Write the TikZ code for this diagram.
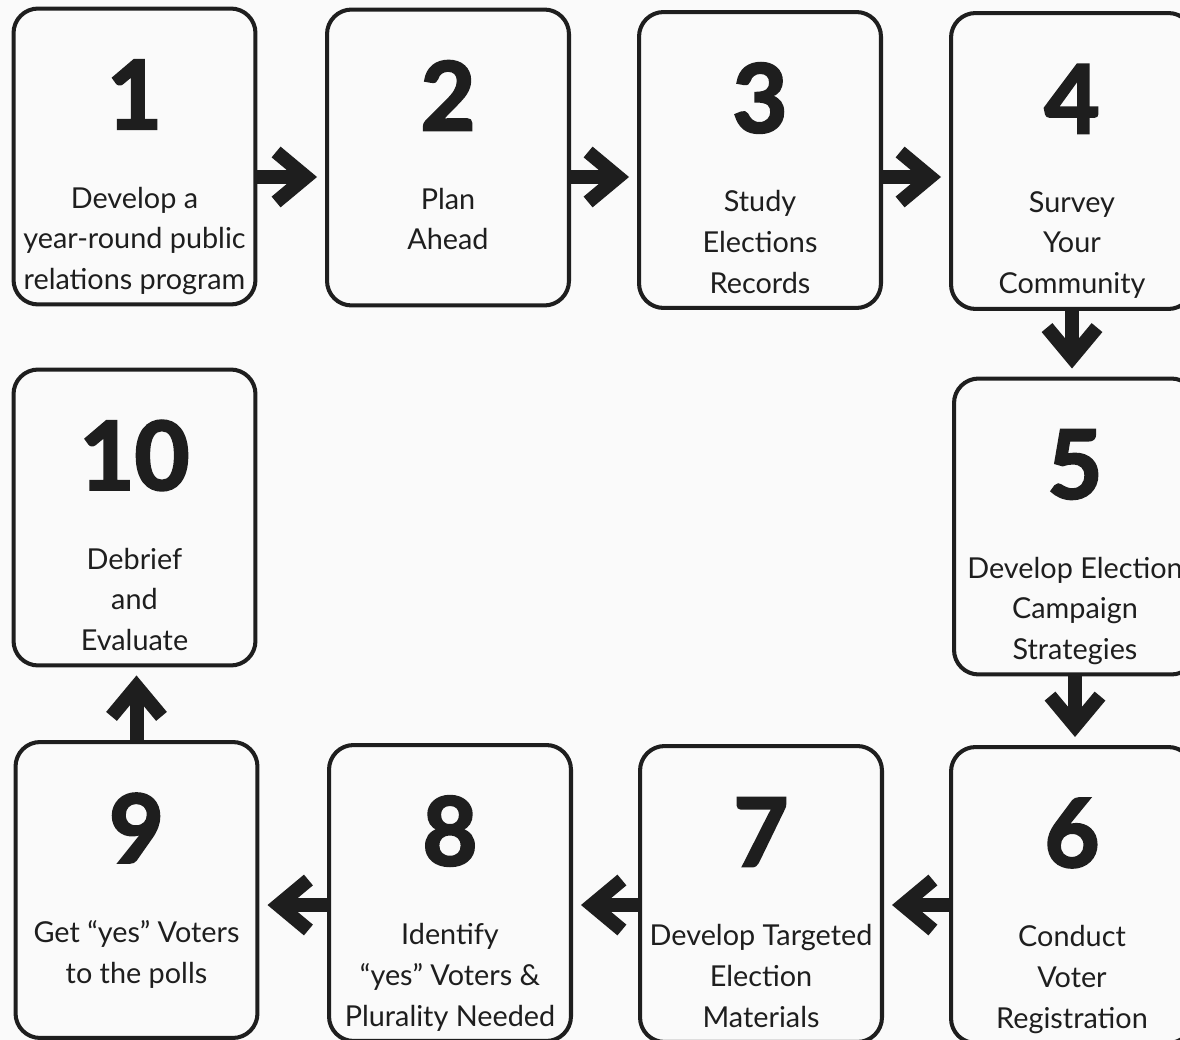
\documentclass[tikz,border=0pt]{standalone}
\usepackage{fontspec}
\setmainfont{Lato}
\newfontfamily\numfont{Lato}[BoldFeatures={FakeBold=2.5}]
\usetikzlibrary{arrows.meta}
\definecolor{paper}{RGB}{250,250,250}
\definecolor{ink}{RGB}{30,30,30}

\begin{document}
\begin{tikzpicture}[x=0.02cm, y=-0.02cm,
  box/.style={draw=ink, line width=2.3pt, rounded corners=14pt, minimum width=4.84cm, minimum height=5.92cm},
  num/.style={font=\fontsize{54}{54}\numfont\bfseries, text=ink, inner sep=0pt},
  lbl/.style={font=\fontsize{16.4}{23.2}\selectfont, text=ink, align=center, anchor=north, inner sep=0pt},
  arrow/.style={draw=ink, line width=0.28cm, -{Straight Barb[length=0.6cm, width=1.0cm]}, shorten >=0.16cm}
]
\fill[paper] (0,0) rectangle (1180,1040);
\useasboundingbox (0,0) rectangle (1180,1040);
\clip (0,0) rectangle (1180,1040);

% the ten steps
\node[box] (b1) at (134.5,156.5) {};
\node[box] (b2) at (448,157.5) {};
\node[box] (b3) at (760,160) {};
\node[box] (b4) at (1072,161) {};
\node[box] (b5) at (1075,526.5) {};
\node[box] (b6) at (1072,895) {};
\node[box] (b7) at (761,894) {};
\node[box] (b8) at (450,893) {};
\node[box] (b9) at (136.5,890) {};
\node[box] (b10) at (134.5,517.5) {};

\node[num] (n1) at ([yshift=-1.76cm]b1.north) {1};
\node[num] (n2) at ([yshift=-1.76cm]b2.north) {2};
\node[num] (n3) at ([yshift=-1.76cm]b3.north) {3};
\node[num] (n4) at ([yshift=-1.76cm]b4.north) {4};
\node[num] (n5) at ([yshift=-1.76cm]b5.north) {5};
\node[num] (n6) at ([yshift=-1.76cm]b6.north) {6};
\node[num] (n7) at ([yshift=-1.76cm]b7.north) {7};
\node[num] (n8) at ([yshift=-1.76cm]b8.north) {8};
\node[num] (n9) at ([yshift=-1.76cm]b9.north) {9};
\node[num] (n10) at ([yshift=-1.76cm]b10.north) {10};

\node[lbl] (t1) at ([yshift=-3.6cm]b1.north) {Develop a\\year-round public\\relations program};
\node[lbl] (t2) at ([yshift=-3.6cm]b2.north) {Plan\\Ahead};
\node[lbl] (t3) at ([yshift=-3.6cm]b3.north) {Study\\Elections\\Records};
\node[lbl] (t4) at ([yshift=-3.6cm]b4.north) {Survey\\Your\\Community};
\node[lbl] (t5) at ([yshift=-3.6cm]b5.north) {Develop Election\\Campaign\\Strategies};
\node[lbl] (t6) at ([yshift=-3.6cm]b6.north) {Conduct\\Voter\\Registration};
\node[lbl] (t7) at ([yshift=-3.6cm]b7.north) {Develop Targeted\\Election\\Materials};
\node[lbl] (t8) at ([yshift=-3.6cm]b8.north) {Identify\\“yes” Voters \&\\Plurality Needed};
\node[lbl] (t9) at ([yshift=-3.6cm]b9.north) {Get “yes” Voters\\to the polls};
\node[lbl] (t10) at ([yshift=-3.6cm]b10.north) {Debrief\\and\\Evaluate};

% connectors
\draw[arrow] ([yshift=-0.41cm]b1.east) -- ([yshift=-0.41cm]b1.east -| b2.west);
\draw[arrow] ([yshift=-0.39cm]b2.east) -- ([yshift=-0.39cm]b2.east -| b3.west);
\draw[arrow] ([yshift=-0.34cm]b3.east) -- ([yshift=-0.34cm]b3.east -| b4.west);
\draw[arrow] (b4.south) -- (b4.south |- b5.north);
\draw[arrow] (b5.south) -- (b5.south |- b6.north);
\draw[arrow] ([yshift=-0.2cm]b6.west) -- ([yshift=-0.2cm]b6.west -| b7.east);
\draw[arrow] ([yshift=-0.22cm]b7.west) -- ([yshift=-0.22cm]b7.west -| b8.east);
\draw[arrow] ([yshift=-0.24cm]b8.west) -- ([yshift=-0.24cm]b8.west -| b9.east);
\draw[arrow] (b9.north) -- (b9.north |- b10.south);
\end{tikzpicture}
\end{document}
